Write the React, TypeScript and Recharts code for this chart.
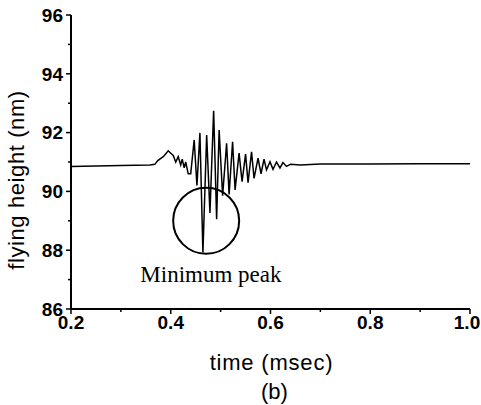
import { LineChart, Line, XAxis, YAxis, ReferenceDot } from "recharts";

// flying height trace (time in msec, height in nm)
const timeMs = [
  0.2, 0.3, 0.358, 0.368, 0.374, 0.385, 0.395, 0.4, 0.405, 0.41, 0.415, 0.42,
  0.423, 0.427, 0.43, 0.435, 0.44, 0.447, 0.4525, 0.4585, 0.4645, 0.472,
  0.4786, 0.486, 0.492, 0.497, 0.504, 0.512, 0.517, 0.524, 0.529, 0.537,
  0.543, 0.55, 0.555, 0.562, 0.567, 0.575, 0.581, 0.587, 0.592, 0.599, 0.605,
  0.612, 0.619, 0.625, 0.632, 0.64, 0.66, 0.7, 0.8, 0.9, 1.0,
];
const heightNm = [
  90.85, 90.88, 90.9, 90.92, 91.05, 91.18, 91.38, 91.3, 91.22, 91.0, 91.18,
  90.9, 91.1, 90.8, 91.0, 90.6, 90.6, 91.75, 90.2, 91.99, 87.92, 91.92, 89.27,
  92.74, 89.05, 92.09, 89.85, 91.64, 89.9, 91.69, 90.05, 91.3, 90.33, 91.27,
  90.3, 91.35, 90.44, 91.13, 90.6, 91.1, 90.73, 91.01, 90.75, 91.0, 90.8,
  90.98, 90.85, 90.92, 90.9, 90.93, 90.93, 90.94, 90.94,
];

const xTicks = [0.2, 0.3, 0.4, 0.5, 0.6, 0.7, 0.8, 0.9, 1.0];
const yTicks = [86, 87, 88, 89, 90, 91, 92, 93, 94, 95, 96];

// annotation: circle around the minimum and its caption
const circleCenter = { t: 0.471, h: 89.0 };
const captionAt = { t: 0.4806, h: 86.92 };
const captionText = "Minimum peak";

const data = timeMs.map((t, i) => ({ t, h: heightNm[i] }));

const SANS = "'Liberation Sans', Arial, Helvetica, sans-serif";
const SERIF = "'Liberation Serif', 'Times New Roman', serif";

function XTick({ x, y, payload }: any) {
  const v = payload.value;
  const major = Math.round(v * 10) % 2 === 0;
  // last label sits against the page edge, nudge it in a little
  const tx = v >= 1 ? x - 3 : x;
  return (
    <g>
      <line x1={x} x2={x} y1={y} y2={y + (major ? 5 : 3)} stroke="#000" strokeWidth={1.5} />
      {major && (
        <text x={tx} y={y + 20} textAnchor="middle" fontFamily={SANS} fontSize={19} fontWeight="bold" fill="#000">
          {v.toFixed(1)}
        </text>
      )}
    </g>
  );
}

function YTick({ x, y, payload }: any) {
  const v = payload.value;
  const major = v % 2 === 0;
  return (
    <g>
      <line x1={x} x2={x - (major ? 5 : 3)} y1={y} y2={y} stroke="#000" strokeWidth={1.5} />
      {major && (
        <text x={x - 8} y={y} dy="0.36em" textAnchor="end" fontFamily={SANS} fontSize={19} fontWeight="bold" fill="#000">
          {v}
        </text>
      )}
    </g>
  );
}

const xLabel = ({ viewBox }: any) => {
  const cx = viewBox.x + viewBox.width / 2;
  return (
    <g fontFamily={SANS} fontSize={22} fill="#000">
      <text x={cx + 1} y={viewBox.y + 53} dy="0.35em" textAnchor="middle" letterSpacing={0.8}>
        time (msec)
      </text>
      <text x={cx + 4} y={viewBox.y + 82} dy="0.35em" textAnchor="middle">
        (b)
      </text>
    </g>
  );
};

const yLabel = ({ viewBox }: any) => {
  const x = viewBox.x + 16;
  const y = 180;
  return (
    <text
      x={x}
      y={y}
      dy="0.35em"
      transform={`rotate(-90 ${x} ${y})`}
      textAnchor="middle"
      fontFamily={SANS}
      fontSize={22}
      letterSpacing={0.6}
      fill="#000"
    >
      flying height (nm)
    </text>
  );
};

export default function App() {
  return (
    <div style={{ position: "absolute", left: 0, top: 0, background: "#fff" }}>
      <LineChart
        width={481}
        height={405}
        data={data}
        margin={{ top: 15, right: 11, bottom: 0, left: 0 }}
      >
        <XAxis
          dataKey="t"
          type="number"
          domain={[0.2, 1.0]}
          ticks={xTicks}
          interval={0}
          allowDataOverflow
          height={96}
          tickSize={0}
          tickMargin={0}
          tickLine={false}
          tick={<XTick />}
          axisLine={{ stroke: "#000", strokeWidth: 2 }}
          label={xLabel}
        />
        <XAxis
          xAxisId="top"
          orientation="top"
          dataKey="t"
          type="number"
          domain={[0.2, 1.0]}
          height={0}
          tick={false}
          tickLine={false}
          axisLine={{ stroke: "#000", strokeWidth: 2 }}
        />
        <YAxis
          type="number"
          domain={[86, 96]}
          ticks={yTicks}
          interval={0}
          allowDataOverflow
          width={71}
          tickSize={0}
          tickMargin={0}
          tickLine={false}
          tick={<YTick />}
          axisLine={{ stroke: "#000", strokeWidth: 2 }}
          label={yLabel}
        />
        <YAxis
          yAxisId="right"
          orientation="right"
          domain={[86, 96]}
          width={0}
          tick={false}
          tickLine={false}
          axisLine={{ stroke: "#000", strokeWidth: 2 }}
        />
        <Line
          type="linear"
          dataKey="h"
          stroke="#000"
          strokeWidth={1.5}
          dot={false}
          isAnimationActive={false}
        />
        <ReferenceDot
          x={circleCenter.t}
          y={circleCenter.h}
          r={33}
          fill="none"
          stroke="#000"
          strokeWidth={2}
          ifOverflow="visible"
        />
        <ReferenceDot
          x={captionAt.t}
          y={captionAt.h}
          ifOverflow="visible"
          shape={(p: any) => (
            <text x={p.cx} y={p.cy} textAnchor="middle" fontFamily={SERIF} fontSize={23} fill="#000">
              {captionText}
            </text>
          )}
        />
      </LineChart>
    </div>
  );
}
